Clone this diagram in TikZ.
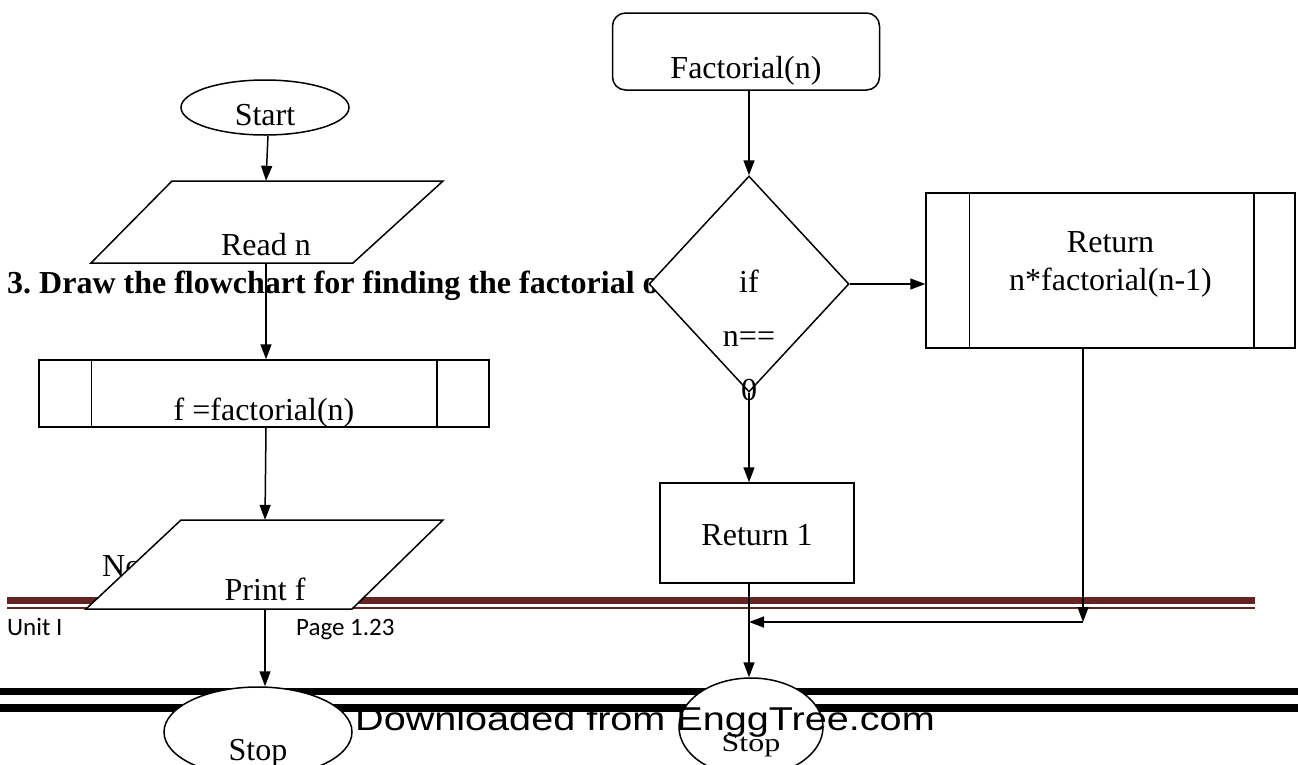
\documentclass[tikz,border=0pt]{standalone}
\usepackage{fontspec}
\setmainfont{Liberation Serif}
\newfontfamily\footerfont{Carlito}
\newfontfamily\markfont{Liberation Sans}
\usetikzlibrary{shapes.geometric,arrows.meta,calc}

\definecolor{rulemaroon}{HTML}{632423}

\tikzset{
  shapeline/.style={draw=black, line width=1.5pt, fill=white},
  boxnode/.style={shapeline, rectangle, inner sep=0pt},
  ovalnode/.style={shapeline, ellipse, inner sep=0pt},
  slantnode/.style={rectangle, inner sep=0pt, draw=none},
  flowarrow/.style={line width=1.5pt, -{Triangle[length=15pt,width=11pt]}},
  flowline/.style={line width=1.5pt},
  body/.style={font=\fontsize{32}{38}\selectfont},
}

\begin{document}
\frenchspacing
\begin{tikzpicture}[x=1pt,y=-1pt]
\useasboundingbox[fill=white] (0,0) rectangle (1298,764);

% page rules behind the chart
\draw[rulemaroon, line width=7pt] (7,600.5) -- (1255,600.5);
\draw[rulemaroon, line width=2pt] (7,608) -- (1255,608);
\draw[black, line width=7pt] (0,691.5) -- (1298,691.5);
\draw[black, line width=8pt] (0,708) -- (1298,708);

% page text
\node[anchor=base west, font=\bfseries\fontsize{32}{38}\selectfont, inner sep=0pt] (heading) at (7,293)
  {3. Draw the flowchart for finding the factorial of a number};
\node[anchor=base west, body, inner sep=0pt] (notext) at (102,576) {No};
\node[anchor=base west, font=\footerfont\fontsize{25}{30}\selectfont, inner sep=0pt] (unit) at (7,635) {Unit I};
\node[anchor=base west, font=\footerfont\fontsize{25}{30}\selectfont, inner sep=0pt] (page) at (296,635) {Page 1.23};

% ---- main program ----
\node[ovalnode, minimum width=168pt, minimum height=55pt, body] (start) at (265,107.5)
  {\raisebox{-18pt}[0pt][0pt]{Start}};

\draw[shapeline] (172,181) -- (443,181) -- (353,263) -- (91,263) -- cycle;
\node[slantnode, minimum width=180pt, minimum height=82pt, body] (read) at (266,222)
  {\raisebox{-33pt}[0pt][0pt]{Read n}};

\node[boxnode, minimum width=450pt, minimum height=67pt, body] (call) at (264,393.5)
  {\raisebox{-27pt}[0pt][0pt]{f =factorial(n)}};
\draw[flowline] ([xshift=53pt]call.north west) -- ([xshift=53pt]call.south west);
\draw[flowline] ([xshift=-53pt]call.north east) -- ([xshift=-53pt]call.south east);

\draw[shapeline] (181,520) -- (443,520) -- (352,609) -- (86,609) -- cycle;
\node[slantnode, minimum width=180pt, minimum height=89pt, body] (print) at (265,564.5)
  {\raisebox{-36pt}[0pt][0pt]{Print f}};

\node[ovalnode, minimum width=188pt, minimum height=90pt, body] (stopl) at (258,732)
  {\raisebox{-28pt}[0pt][0pt]{Stop}};

% ---- recursive function ----
\node[boxnode, rounded corners=13pt, minimum width=267pt, minimum height=77pt, body] (fact) at (746,51.5)
  {\raisebox{-27pt}[0pt][0pt]{Factorial(n)}};

\node[shapeline, diamond, inner sep=0pt, minimum width=200pt, minimum height=216pt, body] (test) at (749,284)
  {\raisebox{-61pt}[0pt][0pt]{\begin{tabular}{@{}c@{}}if\\[16pt] n==\\[16pt] 0\end{tabular}}};

\node[boxnode, minimum width=369pt, minimum height=155pt, body] (rec) at (1110.5,270.5)
  {\raisebox{0pt}[0pt][0pt]{\begin{tabular}{@{}c@{}}Return\\[0pt] n*factorial(n-1)\end{tabular}}};
\draw[flowline] ([xshift=44pt]rec.north west) -- ([xshift=44pt]rec.south west);
\draw[flowline] ([xshift=-42pt]rec.north east) -- ([xshift=-42pt]rec.south east);

\node[boxnode, minimum width=194pt, minimum height=100pt, body] (base) at (757,533)
  {\raisebox{-12pt}[0pt][0pt]{Return 1}};

\node[ovalnode, minimum width=144pt, minimum height=98pt, body] (stopr) at (751,727)
  {\raisebox{-24pt}[0pt][0pt]{\scalebox{1}[0.8]{Stop}}};

% ---- connectors ----
\draw[flowarrow] ([xshift=3pt]start.south) -- (read.north);
\draw[flowarrow] (read.south) -- (read.south |- call.north);
\draw[flowarrow] (read.south |- call.south) -- (print.north);
\draw[flowarrow] (print.south) -- (print.south |- stopl.north);

\draw[flowarrow] (fact.south -| test.north) -- (test.north);
\draw[flowarrow] (test.east) -- (test.east -| rec.west);
\draw[flowarrow] (test.south) -- (test.south |- base.north);
\draw[flowarrow] (test.south |- base.south) -- (test.south |- stopr.north);

\coordinate (corner) at (1083,622);
\coordinate (merge) at (test.south |- corner);
\draw[flowarrow] (rec.south -| corner) -- (corner);
\draw[flowarrow] (corner) -- (merge);

% watermark on top
\node[anchor=base west, inner sep=0pt, font=\markfont\fontsize{33}{40}\selectfont] (mark) at (355,730)
  {\scalebox{1.2}[1]{Downloaded from EnggTree.com}};
\end{tikzpicture}
\end{document}
